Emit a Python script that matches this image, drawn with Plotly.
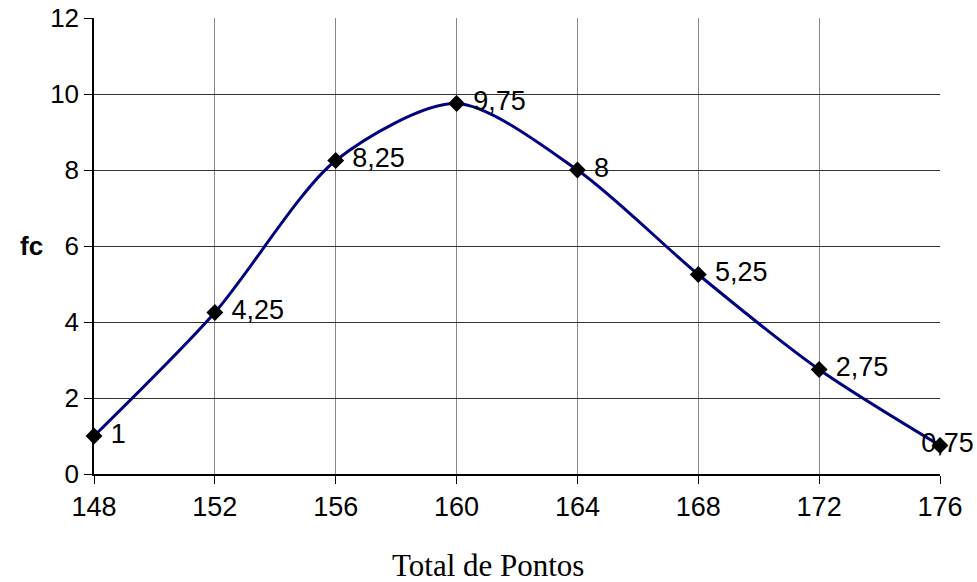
import plotly.graph_objects as go

x_points = [148, 152, 156, 160, 164, 168, 172, 176]
fc_values = [1, 4.25, 8.25, 9.75, 8, 5.25, 2.75, 0.75]
point_labels = ["1", "4,25", "8,25", "9,75", "8", "5,25", "2,75", "0,75"]
x_ticks = [148, 152, 156, 160, 164, 168, 172, 176]
y_ticks = [0, 2, 4, 6, 8, 10, 12]

label_pos = ["middle right"] * (len(x_points) - 1) + ["middle center"]
label_text = [(" " + t) if p == "middle right" else ("  " + t) for t, p in zip(point_labels, label_pos)]

fig = go.Figure()
fig.add_trace(go.Scatter(
    x=x_points, y=fc_values,
    mode="lines+markers+text",
    line=dict(color="#000080", width=3, shape="spline", smoothing=0.8),
    marker=dict(symbol="diamond", size=13, color="black"),
    text=label_text,
    textposition=label_pos,
    textfont=dict(family="Liberation Sans, Arial", size=27, color="black"),
    cliponaxis=False,
    showlegend=False,
))

fig.update_layout(
    width=977, height=582,
    margin=dict(l=94, r=37, t=18, b=108, autoexpand=False),
    paper_bgcolor="white", plot_bgcolor="white",
    xaxis=dict(
        range=[148, 176], tickvals=x_ticks, ticktext=[str(v) for v in x_ticks],
        showgrid=True, gridcolor="#888888", gridwidth=1,
        showline=True, linecolor="black", linewidth=1.5,
        ticks="outside", ticklen=8, tickcolor="black",
        tickfont=dict(family="Liberation Sans, Arial", size=27, color="black"),
        zeroline=False, automargin=False, ticklabeloverflow="allow",
    ),
    yaxis=dict(
        range=[0, 12], tickvals=y_ticks,
        showgrid=True, gridcolor="#333333", gridwidth=1,
        showline=True, linecolor="black", linewidth=1.5,
        ticks="outside", ticklen=8, tickcolor="black",
        tickfont=dict(family="Liberation Sans, Arial", size=26, color="black"),
        zeroline=False, automargin=False, ticklabeloverflow="allow",
    ),
    annotations=[
        dict(
            text="<b>fc</b>", xref="paper", yref="y", x=-0.074, y=6,
            showarrow=False, xanchor="center", yanchor="middle",
            font=dict(family="Liberation Sans, Arial", size=26, color="black"),
        ),
        dict(
            text="Total de Pontos", xref="paper", yref="paper", x=0.466, y=-0.2,
            showarrow=False, xanchor="center", yanchor="middle",
            font=dict(family="Liberation Serif, Times New Roman", size=31, color="black"),
        ),
    ],
)

fig.write_html("out.html", config={"displayModeBar": False},
               post_script="document.body.style.margin='0';")
